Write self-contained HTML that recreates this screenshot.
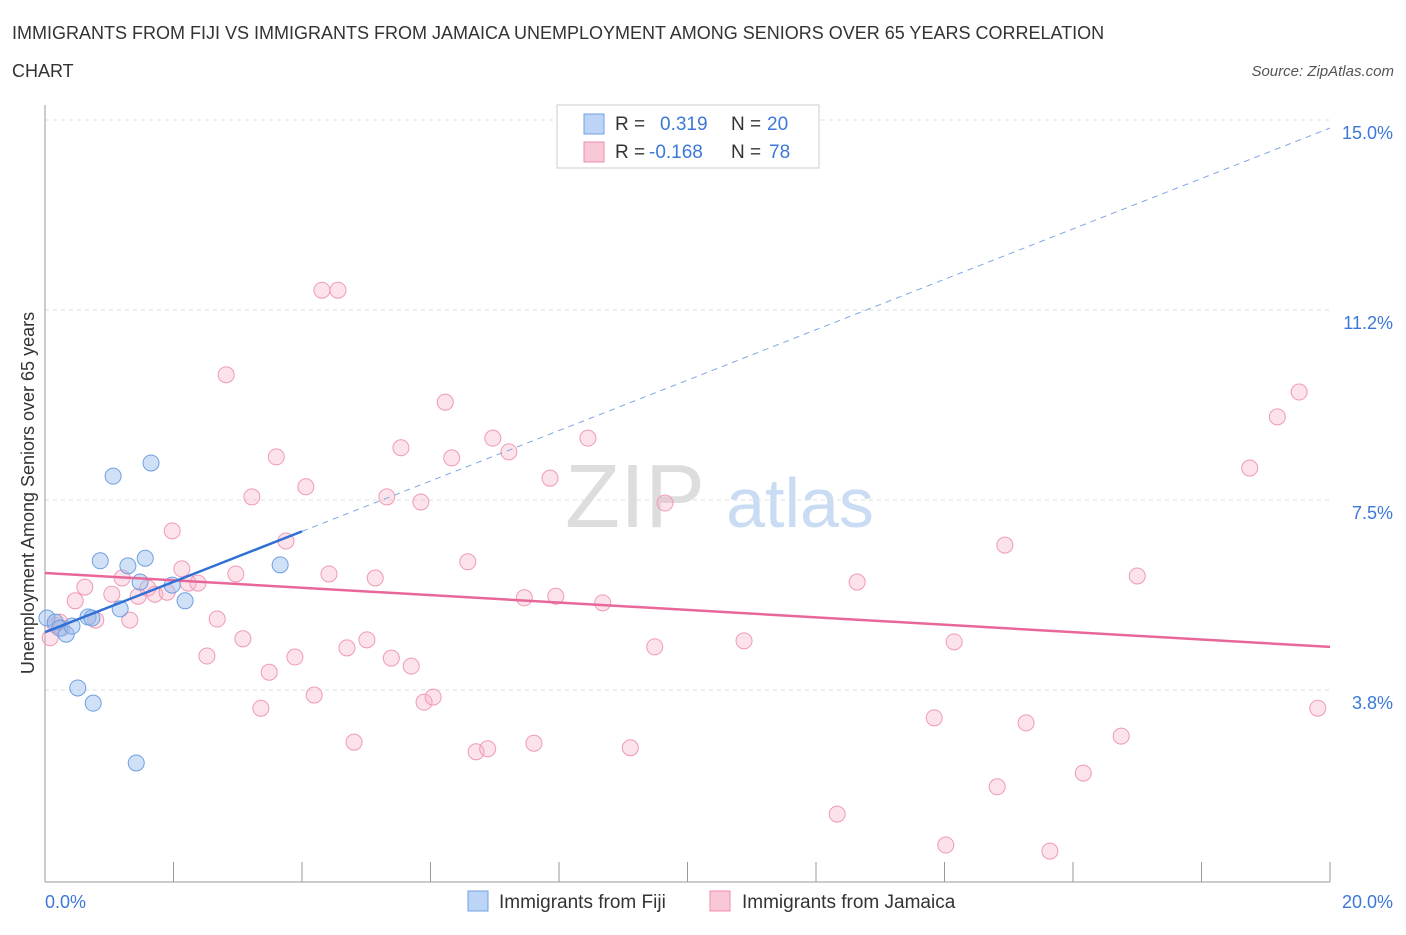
<!DOCTYPE html>
<html><head><meta charset="utf-8"><style>
body{margin:0;background:#fff;font-family:"Liberation Sans",sans-serif;}
svg text{font-family:"Liberation Sans",sans-serif;}
</style></head><body>
<svg id="c" width="1406" height="930" xmlns="http://www.w3.org/2000/svg">
<text x="12" y="39" font-size="18" fill="#333">IMMIGRANTS FROM FIJI VS IMMIGRANTS FROM JAMAICA UNEMPLOYMENT AMONG SENIORS OVER 65 YEARS CORRELATION</text>
<text x="12" y="77" font-size="18" fill="#333">CHART</text>
<text x="1394" y="76" font-size="15" fill="#555" font-style="italic" text-anchor="end">Source: ZipAtlas.com</text>
<text x="635" y="527" font-size="90" fill="#ddd" font-family="Liberation Serif" text-anchor="middle">ZIP</text>
<text x="800" y="527" font-size="70" fill="#c9dcf3" text-anchor="middle">atlas</text>
<text transform="translate(34,493) rotate(-90)" font-size="18" fill="#333" text-anchor="middle">Unemployment Among Seniors over 65 years</text>
<g id="grid"></g><g id="ticks"></g><g id="marks"></g>
<g>
<rect x="557" y="105" width="262" height="63" fill="#fff" stroke="#ccc"/>
<rect x="584" y="114" width="20" height="20" fill="#bcd4f6" stroke="#6f9fe0"/>
<rect x="584" y="142" width="20" height="20" fill="#f9c8d7" stroke="#f08cab"/>
<text x="615" y="130" font-size="19" fill="#333">R = </text><text x="660" y="130" font-size="19" fill="#3c78d8">0.319</text>
<text x="731" y="130" font-size="19" fill="#333">N = </text><text x="767" y="130" font-size="19" fill="#3c78d8">20</text>
<text x="615" y="158" font-size="19" fill="#333">R = </text><text x="649" y="158" font-size="19" fill="#3c78d8">-0.168</text>
<text x="731" y="158" font-size="19" fill="#333">N = </text><text x="769" y="158" font-size="19" fill="#3c78d8">78</text>
</g>
<g>
<rect x="468" y="891" width="20" height="20" fill="#bcd4f6" stroke="#6f9fe0"/>
<text x="499" y="908" font-size="19" fill="#333">Immigrants from Fiji</text>
<rect x="710" y="891" width="20" height="20" fill="#f9c8d7" stroke="#f08cab"/>
<text x="742" y="908" font-size="19" fill="#333">Immigrants from Jamaica</text>
</g>
</svg>
<script>
const yTicks=[15.0,11.25,7.5,3.75];
const yTickLabels=["15.0%","11.2%","7.5%","3.8%"];
const xTickVals=[0,2,4,6,8,10,12,14,16,18,20];
const fijiX=[0.03,0.16,0.23,0.33,0.42,0.67,0.73,1.17,0.51,0.75,1.42,0.86,1.29,1.56,1.48,1.98,2.18,1.06,1.65,3.66];
const fijiY=[5.17,5.09,4.97,4.85,5.01,5.19,5.17,5.35,3.79,3.49,2.31,6.30,6.20,6.35,5.88,5.82,5.51,7.97,8.23,6.22];
const jamX=[0.08,0.16,0.26,0.47,0.62,0.79,1.04,1.20,1.32,1.45,1.60,1.71,1.90,1.98,2.13,2.23,2.38,2.52,2.68,2.82,2.97,3.08,3.22,3.36,3.49,3.60,3.75,3.89,4.06,4.19,4.31,4.56,4.42,4.70,4.81,5.01,5.14,5.32,5.39,5.54,5.70,5.85,5.90,6.04,6.23,6.33,6.58,6.71,6.89,6.97,7.22,7.46,7.61,7.86,7.95,8.45,8.68,9.11,9.49,9.65,10.88,12.33,12.64,13.84,14.02,14.15,14.82,14.94,15.27,15.64,16.16,16.75,17.00,18.75,19.18,19.52,19.81,0.23];
const jamY=[4.78,5.03,4.97,5.51,5.78,5.13,5.64,5.96,5.13,5.60,5.76,5.64,5.68,6.89,6.14,5.86,5.86,4.42,5.15,9.97,6.04,4.76,7.56,3.39,4.10,8.35,6.69,4.40,7.76,3.65,11.64,11.64,6.04,4.58,2.72,4.74,5.96,7.56,4.38,8.53,4.22,7.46,3.51,3.61,9.43,8.33,6.28,2.53,2.59,8.72,8.45,5.57,2.70,7.93,5.60,8.72,5.47,2.61,4.60,7.44,4.72,1.30,5.88,3.20,0.69,4.70,1.84,6.61,3.10,0.57,2.11,2.84,6.00,8.13,9.14,9.63,3.39,5.09];
const fijiTrend=[4.89,0.4975];
const jamTrend=[6.06,-0.073];
const X=v=>45+64.25*v, Y=v=>880-50.67*v;
const NS="http://www.w3.org/2000/svg";
function mk(t,a,p){const e=document.createElementNS(NS,t);for(const k in a)e.setAttribute(k,a[k]);p.appendChild(e);return e;}
const grid=document.getElementById('grid'),ticks=document.getElementById('ticks'),marks=document.getElementById('marks');
yTicks.forEach((v,i)=>{
 const l=mk('line',{x1:45,x2:1330,y1:Y(v),y2:Y(v),stroke:'#ddd','stroke-dasharray':'4,4'},grid);
 
 
 const t=mk('text',{x:1393,y:Y(v)+19,'font-size':18,fill:'#3c78d8','text-anchor':'end'},ticks);t.textContent=yTickLabels[i];
 
 
});
const ax=mk('line',{x1:45,x2:1330,y1:882,y2:882,stroke:'#999'},ticks);


const ay=mk('line',{x1:45,x2:45,y1:105,y2:882,stroke:'#999'},ticks);


xTickVals.forEach(v=>{const l=mk('line',{x1:X(v),x2:X(v),y1:862,y2:882,stroke:'#999'},ticks);
 
 });
let t0=mk('text',{x:45,y:908,'font-size':18,fill:'#3c78d8'},ticks);t0.textContent=xTickVals[0].toFixed(1)+'%';


let t1=mk('text',{x:1393,y:908,'font-size':18,fill:'#3c78d8','text-anchor':'end'},ticks);t1.textContent=xTickVals[10].toFixed(1)+'%';


jamX.forEach((x,i)=>{const c=mk('circle',{cx:X(x),cy:Y(jamY[i]),r:8,fill:'rgba(246,175,198,0.35)',stroke:'#f09ab5','stroke-width':1},marks);
 
 });
fijiX.forEach((x,i)=>{const c=mk('circle',{cx:X(x),cy:Y(fijiY[i]),r:8,fill:'rgba(150,188,238,0.45)',stroke:'#6f9fe0','stroke-width':1},marks);
 
 });
const jl=mk('line',{x1:X(0),y1:Y(jamTrend[0]),x2:X(20),y2:Y(jamTrend[0]+jamTrend[1]*20),stroke:'#e8679a','stroke-width':2.5},marks);


const fl=mk('line',{x1:X(0),y1:Y(fijiTrend[0]),x2:X(4),y2:Y(fijiTrend[0]+fijiTrend[1]*4),stroke:'#2f6fd6','stroke-width':2.5},marks);


const fd=mk('line',{x1:X(4),y1:Y(fijiTrend[0]+fijiTrend[1]*4),x2:X(20),y2:Y(fijiTrend[0]+fijiTrend[1]*20),stroke:'#7fa6e6','stroke-width':1,'stroke-dasharray':'6,5'},marks);


</script>
</body></html>
